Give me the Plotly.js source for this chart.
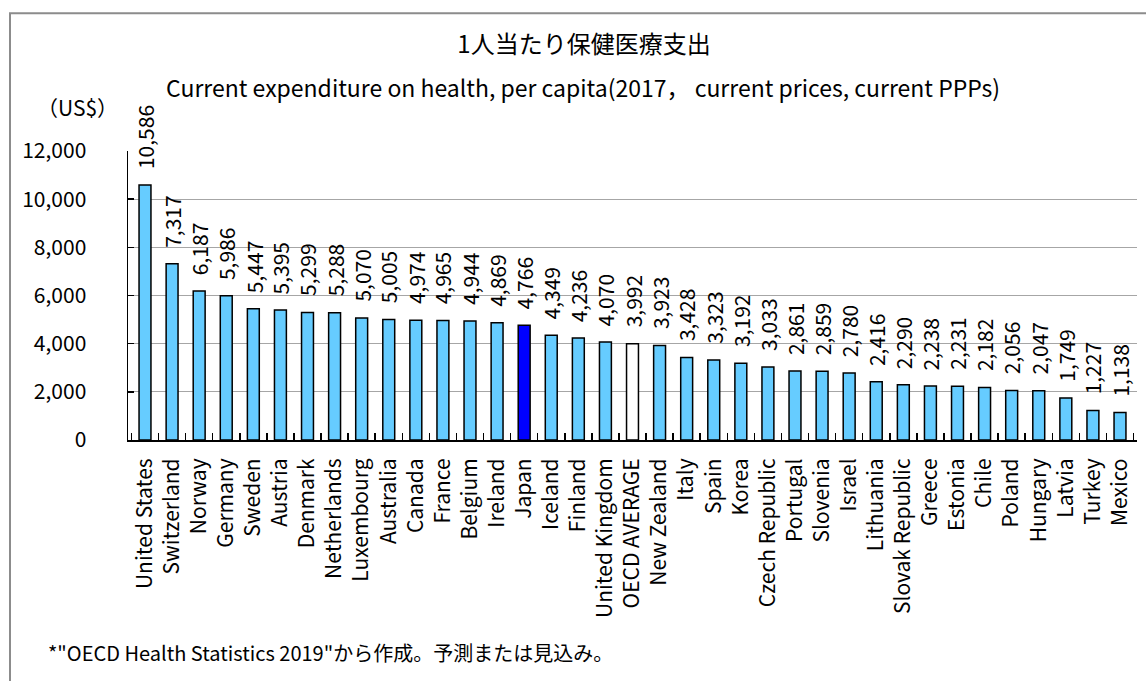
<!DOCTYPE html>
<html>
<head>
<meta charset="utf-8">
<script src="https://cdn.plot.ly/plotly-3.0.1.min.js"></script>
<style>html,body{margin:0;padding:0;background:#fff;overflow:hidden;}</style>
</head>
<body>
<div id="chart" style="width:1146px;height:681px;"></div>
<script>
const countries = ["United States","Switzerland","Norway","Germany","Sweden","Austria","Denmark","Netherlands","Luxembourg","Australia","Canada","France","Belgium","Ireland","Japan","Iceland","Finland","United Kingdom","OECD AVERAGE","New Zealand","Italy","Spain","Korea","Czech Republic","Portugal","Slovenia","Israel","Lithuania","Slovak Republic","Greece","Estonia","Chile","Poland","Hungary","Latvia","Turkey","Mexico"];
const spending = [10586,7317,6187,5986,5447,5395,5299,5288,5070,5005,4974,4965,4944,4869,4766,4349,4236,4070,3992,3923,3428,3323,3192,3033,2861,2859,2780,2416,2290,2238,2231,2182,2056,2047,1749,1227,1138];
const yTicks = [0,2000,4000,6000,8000,10000,12000];
const yTickLabels = ["0","2,000","4,000","6,000","8,000","10,000","12,000"];
const titleMain = "1人当たり保健医療支出";
const titleSub = "Current expenditure on health, per capita(2017， current prices, current PPPs)";
const unitLabel = "（US$）";
const footnote = "*\"OECD Health Statistics 2019\"から作成。予測または見込み。";

const FONT = "'Noto Sans CJK JP', 'Noto Sans', sans-serif";
const colors = countries.map(c => c === "Japan" ? "#0000FF" : (c === "OECD AVERAGE" ? "#FFFFFF" : "#66CCFF"));
const fmt = v => v.toLocaleString("en-US");

const valueAnnotations = countries.map((c, i) => ({
  x: c, y: spending[i], xref: "x", yref: "y",
  text: fmt(spending[i]), textangle: -90, showarrow: false,
  xanchor: "center", yanchor: "bottom", yshift: 14,
  font: {family: FONT, size: 21, color: "#000"}
}));

const L = 128, R = 1137, T = 151, B = 440.5, W = 1146, H = 681;
const pw = R - L, ph = B - T;
const px = x => (x - L) / pw;
const py = y => (B - y) / ph;

const data = [{
  type: "bar", x: countries, y: spending,
  marker: {color: colors, line: {color: "#000", width: 1.5}},
  hoverinfo: "x+y", showlegend: false
}];

const layout = {
  width: W, height: H,
  margin: {l: L, r: W - R, t: T, b: H - B, pad: 0},
  paper_bgcolor: "#fff", plot_bgcolor: "#fff",
  font: {family: FONT, size: 21, color: "#000"},
  bargap: 0.56,
  title: {text: titleMain, x: 584 / W, xref: "container", y: 1 - 45 / H, yref: "container", xanchor: "center", yanchor: "middle", font: {family: FONT, size: 24, color: "#000"}},
  xaxis: {
    type: "category", tickangle: -90, showgrid: false,
    showline: true, linecolor: "#000", linewidth: 2,
    ticks: "inside", ticklen: 7, tickcolor: "#000", tickwidth: 1.5, tickson: "boundaries",
    ticklabelstandoff: 8,
    tickfont: {family: FONT, size: 21, color: "#000"}, fixedrange: true
  },
  yaxis: {
    range: [0, 12000], tickvals: yTicks, ticktext: yTickLabels,
    showgrid: true, gridcolor: "#A6A6A6", gridwidth: 1.2,
    showline: true, linecolor: "#000", linewidth: 1.5,
    ticks: "inside", ticklen: 6, tickcolor: "#000", tickwidth: 1.5,
    zeroline: false, ticklabelstandoff: 36,
    tickfont: {family: FONT, size: 21, color: "#000"}, fixedrange: true
  },
  annotations: valueAnnotations.concat([
    {xref: "paper", yref: "paper", x: px(583), y: py(87), text: titleSub, showarrow: false, xanchor: "center", yanchor: "middle", font: {family: FONT, size: 23, color: "#000"}},
    {xref: "paper", yref: "paper", x: px(77), y: py(107), text: unitLabel, showarrow: false, xanchor: "center", yanchor: "middle", font: {family: FONT, size: 21, color: "#000"}},
    {xref: "paper", yref: "paper", x: px(46), y: py(653), text: footnote, showarrow: false, xanchor: "left", yanchor: "middle", font: {family: FONT, size: 20, color: "#000"}}
  ]),
  shapes: [{
    type: "rect", xref: "paper", yref: "paper", layer: "below",
    x0: px(10), x1: px(1160), y0: py(700), y1: py(13),
    line: {color: "#8C8C8C", width: 2}, fillcolor: "rgba(0,0,0,0)"
  }]
};

Plotly.newPlot("chart", data, layout, {displayModeBar: false, staticPlot: true});
</script>
</body>
</html>
